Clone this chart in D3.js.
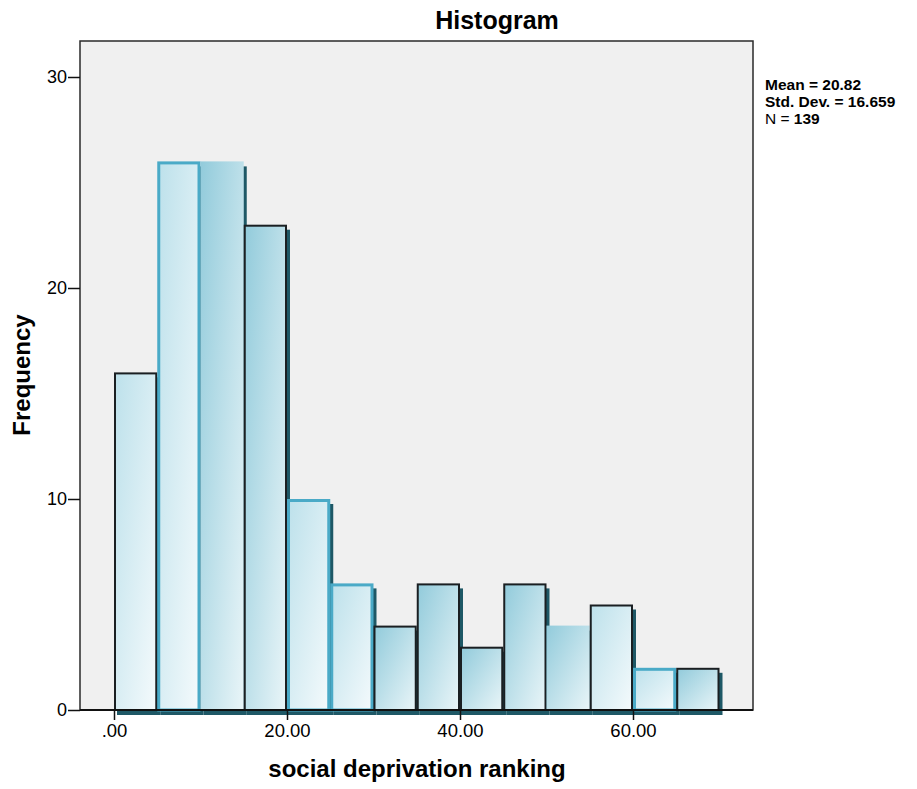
<!DOCTYPE html>
<html>
<head>
<meta charset="utf-8">
<script src="https://cdn.jsdelivr.net/npm/d3@7"></script>
<style>
  html, body { margin: 0; padding: 0; background: #ffffff; }
  svg text { font-family: "Liberation Sans", Arial, Helvetica, sans-serif; fill: #000; }
</style>
</head>
<body>
<svg id="chart" width="917" height="789"></svg>
<script>
// Histogram of social deprivation ranking (bins of width 5)
const binStarts = [0, 5, 10, 15, 20, 25, 30, 35, 40, 45, 50, 55, 60, 65];
const binWidth = 5;
const frequencies = [16, 26, 26, 23, 10, 6, 4, 6, 3, 6, 4, 5, 2, 2];
const yTicks = [0, 10, 20, 30];
const xTicks = [0, 20, 40, 60];
const xTickLabels = [".00", "20.00", "40.00", "60.00"];
const statLines = [
  { label: "Mean = ", value: "20.82" },
  { label: "Std. Dev. = ", value: "16.659" },
  { label: "N = ", value: "139" }
];

// edge treatment of each bar: outlined dark, outlined cyan, or plain
const barEdges = ["dark", "cyan", "none", "dark", "cyan", "cyan", "dark",
                  "dark", "dark", "dark", "none", "dark", "cyan", "dark"];
const barTones = ["pale", "pale", "deep", "deep", "pale", "pale", "deep",
                  "deep", "deep", "deep", "deep", "pale", "pale", "deep"];

const svg = d3.select("#chart");
const frame = { left: 80, top: 41, right: 753, bottom: 710 };

const x = d3.scaleLinear().domain([0, 60]).range([114, 633]);
const y = d3.scaleLinear().domain([0, 30]).range([710, 77]);

// gradients
const defs = svg.append("defs");
const tones = {
  pale: ["#bde1eb", "#f4fafc"],
  deep: ["#92cbdb", "#e9f5f8"]
};
Object.entries(tones).forEach(([name, [c0, c1]]) => {
  const g = defs.append("linearGradient")
    .attr("id", "grad-" + name)
    .attr("x1", 0).attr("y1", 0).attr("x2", 1).attr("y2", 1);
  g.append("stop").attr("offset", "0%").attr("stop-color", c0);
  g.append("stop").attr("offset", "100%").attr("stop-color", c1);
});

// plot background
svg.append("rect")
  .attr("x", frame.left).attr("y", frame.top)
  .attr("width", frame.right - frame.left)
  .attr("height", frame.bottom - frame.top)
  .attr("fill", "#f0f0f0")
  .attr("stroke", "#2a2a2a")
  .attr("stroke-width", 1.5);

const bins = binStarts.map((s, i) => ({
  x0: s, x1: s + binWidth, n: frequencies[i], edge: barEdges[i], tone: barTones[i]
}));

// drop shadows
svg.append("g").selectAll("rect").data(bins).join("rect")
  .attr("x", d => x(d.x0) + 3)
  .attr("y", d => y(d.n) + 5)
  .attr("width", d => x(d.x1) - x(d.x0))
  .attr("height", d => y(0) - y(d.n))
  .attr("fill", "#1e5866");

// bars
const edgeColor = { dark: "#1a1f22", cyan: "#4aaac7", none: "none" };
const edgeWidth = { dark: 2, cyan: 3, none: 0 };
svg.append("g").selectAll("rect").data(bins).join("rect")
  .attr("x", d => x(d.x0) + edgeWidth[d.edge] / 2)
  .attr("y", d => y(d.n) + edgeWidth[d.edge] / 2)
  .attr("width", d => x(d.x1) - x(d.x0) - edgeWidth[d.edge])
  .attr("height", d => y(0) - y(d.n) - edgeWidth[d.edge] / 2)
  .attr("fill", d => `url(#grad-${d.tone})`)
  .attr("stroke", d => edgeColor[d.edge])
  .attr("stroke-width", d => edgeWidth[d.edge]);

// x axis baseline
svg.append("line")
  .attr("x1", frame.left).attr("x2", frame.right)
  .attr("y1", frame.bottom).attr("y2", frame.bottom)
  .attr("stroke", "#111").attr("stroke-width", 2);

// y axis
const yAxis = svg.append("g")
  .attr("transform", `translate(${frame.left},0)`)
  .call(d3.axisLeft(y).tickValues(yTicks).tickSize(12).tickPadding(1)
    .tickFormat(d3.format("d")));
yAxis.select(".domain").remove();
yAxis.selectAll(".tick line").attr("stroke", "#111").attr("stroke-width", 1.5);
yAxis.selectAll(".tick text").style("font-size", "18px")
  .style("font-family", "'Liberation Sans', Arial, sans-serif").attr("fill", "#000");

// x axis
const xAxis = svg.append("g")
  .attr("transform", `translate(0,${frame.bottom})`)
  .call(d3.axisBottom(x).tickValues(xTicks).tickSize(10).tickPadding(4)
    .tickFormat((d, i) => xTickLabels[i]));
xAxis.select(".domain").remove();
xAxis.selectAll(".tick line").attr("stroke", "#111").attr("stroke-width", 1.5);
xAxis.selectAll(".tick text").style("font-size", "18.5px")
  .style("font-family", "'Liberation Sans', Arial, sans-serif").attr("fill", "#000");

// title
svg.append("text")
  .attr("x", 497).attr("y", 29)
  .attr("text-anchor", "middle")
  .style("font-size", "25px").style("font-weight", "bold")
  .text("Histogram");

// axis titles
svg.append("text")
  .attr("x", 417).attr("y", 777)
  .attr("text-anchor", "middle")
  .style("font-size", "24px").style("font-weight", "bold")
  .text("social deprivation ranking");

svg.append("text")
  .attr("transform", "translate(30,375) rotate(-90)")
  .attr("text-anchor", "middle")
  .style("font-size", "24px").style("font-weight", "bold")
  .text("Frequency");

// summary statistics
const stats = svg.append("g").attr("transform", "translate(765,0)");
statLines.forEach((s, i) => {
  const t = stats.append("text")
    .attr("x", 0).attr("y", 90 + i * 17)
    .style("font-size", "15.5px");
  t.append("tspan").style("font-weight", i < 2 ? "bold" : "normal").text(s.label);
  t.append("tspan").style("font-weight", "bold").text(s.value);
});
</script>
</body>
</html>
